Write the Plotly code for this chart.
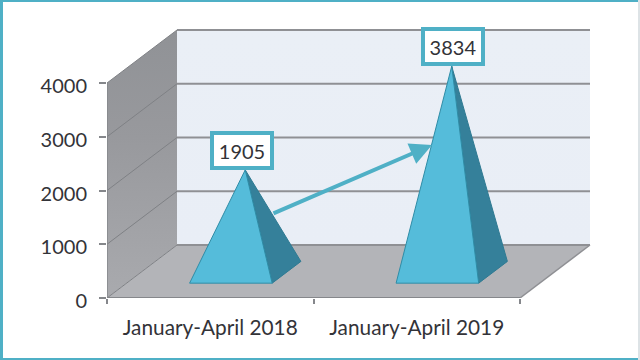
import plotly.graph_objects as go

categories = ["January-April 2018", "January-April 2019"]
values = [1905, 3834]
y_ticks = [0, 1000, 2000, 3000, 4000]

# Chart geometry in axis units
DEPTH_X, DEPTH_Y = 0.339, 986
HALF, FRONT, BACK = 0.2, 0.28, 0.69
MID = 0.485
W, H = 640, 360
L, R, T, B = 107, 49, 28, 62
PX_X, PX_Y = 206.5, 0.05375
XMAX = (W - L - R) / PX_X - 0.5
YMAX = (H - T - B) / PX_Y
CENTER_NUDGE = 0.005
TEAL = "#4FB0C6"
TEXT = "#333338"
FONT = "Lato"


def project(x, v, d):
    return x + d * DEPTH_X, v + d * DEPTH_Y


def poly(points, fill=None, line=None, lw=0, grad=None, closed=True):
    xs, ys = zip(*points)
    kw = dict(x=list(xs), y=list(ys), mode="lines", hoverinfo="skip",
              showlegend=False, cliponaxis=False,
              line=dict(color=line or "rgba(0,0,0,0)", width=lw))
    if closed:
        kw["fill"] = "toself"
        if grad:
            kw["fillgradient"] = grad
        else:
            kw["fillcolor"] = fill
    return go.Scatter(**kw)


fig = go.Figure()
x0, x1 = -0.5, 1.5
top = y_ticks[-1]

# Back wall
fig.add_trace(poly([project(x0, 0, 1), project(x1, 0, 1), project(x1, top, 1), project(x0, top, 1), project(x0, 0, 1)],
                   grad=dict(type="vertical", colorscale=[[0, "#E9EEF6"], [1, "#EAEFF6"]])))
# Left wall
fig.add_trace(poly([project(x0, 0, 0), project(x0, 0, 1), project(x0, top, 1), project(x0, top, 0), project(x0, 0, 0)],
                   grad=dict(type="vertical", colorscale=[[0, "#A9AAAE"], [0.6, "#98999D"], [1, "#909296"]])))
# Floor
fig.add_trace(poly([project(x0, 0, 0), project(x1, 0, 0), project(x1, 0, 1), project(x0, 0, 1), project(x0, 0, 0)],
                   fill="#B3B4B8"))
# Grid lines
for t in y_ticks:
    fig.add_trace(poly([project(x0, t, 1), project(x1, t, 1)], line="#8F9094", lw=2, closed=False))
    fig.add_trace(poly([project(x0, t, 0), project(x0, t, 1)], line="#7F8185", lw=1, closed=False))
# Floor edges and axis lines
fig.add_trace(poly([project(x1, 0, 0), project(x1, 0, 1)], line="#8F9094", lw=1.5, closed=False))
fig.add_trace(poly([project(x0, 0, 0), project(x1, 0, 0)], line="#85878B", lw=2, closed=False))
fig.add_trace(poly([project(x0, 0, 0), project(x0, top, 0)], line="#85878B", lw=1.5, closed=False))

# Pyramids
for i, v in enumerate(values):
    c = i + CENTER_NUDGE
    fl = project(c - HALF, 0, FRONT)
    fr = project(c + HALF, 0, FRONT)
    br = project(c + HALF, 0, BACK)
    apex = project(c, v, MID)
    fig.add_trace(poly([fr, br, apex, fr], fill="#35809A", line="#2F7A92", lw=1))
    fig.add_trace(poly([fl, fr, apex, fl], fill="#55BCDA", line="#2F8CA6", lw=1))

annotations = []
# Arrow between the pyramids
arrow_from = (0.299, 1563)
arrow_to = (1.074, 2847)
annotations.append(dict(x=arrow_to[0], y=arrow_to[1], ax=arrow_from[0], ay=arrow_from[1],
                        xref="x", yref="y", axref="x", ayref="y", text="",
                        showarrow=True, arrowhead=2, arrowsize=1.1, arrowwidth=4, arrowcolor=TEAL))
# Value labels
for i, v in enumerate(values):
    ax, ay = project(i + CENTER_NUDGE, v, MID)
    annotations.append(dict(x=ax, y=ay, xref="x", yref="y", text=str(v), showarrow=False,
                            yanchor="bottom", yshift=0, xshift=-3 if i == 0 else 1,
                            font=dict(family=FONT, size=20, color=TEXT),
                            bgcolor="white", bordercolor=TEAL, borderwidth=4,
                            width=56, height=31, borderpad=0))

# Frame (paper coordinates)
pw, ph = W - L - R, H - T - B
def px(x):
    return (x - L) / pw
def py(y):
    return (H - B - y) / ph
shapes = []
for a, b, c, d, col in [(0, 0, 3, H, TEAL), (0, 0, W, 2, TEAL), (0, 358, W, H, TEAL), (638, 0, W, H, "#DDE3E6")]:
    shapes.append(dict(type="rect", xref="paper", yref="paper", x0=px(a), x1=px(c), y0=py(b), y1=py(d),
                       fillcolor=col, line=dict(width=0), layer="above"))

fig.update_layout(
    width=W, height=H, margin=dict(l=L, r=R, t=T, b=B, pad=0),
    paper_bgcolor="white", plot_bgcolor="white", showlegend=False,
    annotations=annotations, shapes=shapes,
    font=dict(family=FONT, color=TEXT),
    xaxis=dict(range=[-0.5, XMAX], tickmode="array", tickvals=[0, 1], ticktext=categories,
               showgrid=False, zeroline=False, showline=False, ticks="",
               tickfont=dict(family=FONT, size=20.8, color=TEXT), ticklabelstandoff=15,
               minor=dict(tickmode="array", tickvals=[-0.5, 0.5, 1.5], ticks="outside", ticklen=5,
                          tickcolor="#85878B", tickwidth=1.5, showgrid=False)),
    yaxis=dict(range=[0, YMAX], tickmode="array", tickvals=y_ticks,
               showgrid=False, zeroline=False, showline=False, ticks="outside", ticklen=7,
               tickcolor="#85878B", tickwidth=1.5, ticklabelshift=3,
               tickfont=dict(family=FONT, size=20, color=TEXT), ticklabelstandoff=8),
)
fig.write_html("out.html", post_script="document.body.style.margin='0';", config=dict(displayModeBar=False))
